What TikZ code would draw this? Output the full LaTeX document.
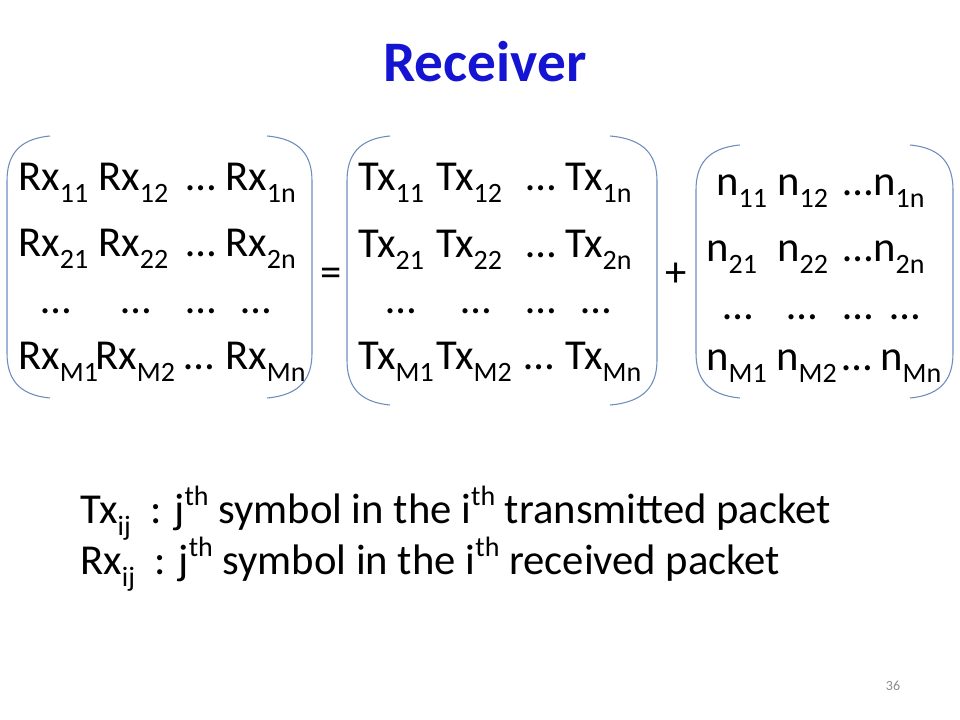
\documentclass[tikz,border=0pt]{standalone}
\usepackage{fontspec}
\setmainfont{Carlito}
\definecolor{titleblue}{RGB}{20,20,210}
\definecolor{brkcol}{RGB}{110,140,190}
\definecolor{pgray}{RGB}{140,140,140}
\newcommand{\mysb}[1]{\raisebox{-9pt}{\fontsize{21}{21}\selectfont #1}}
\newcommand{\mysp}[1]{\raisebox{13pt}{\fontsize{21}{21}\selectfont #1}}
\newcommand{\brkt}[4]{\draw[brk] (#1,#3) .. controls ({#2+0.25*(#1-#2)},{#3+3}) and (#2,{#3+20}) .. (#2,{#3+45}) -- (#2,{#4-45}) .. controls (#2,{#4-20}) and ({#2+0.25*(#1-#2)},{#4-3}) .. (#1,#4);}
\begin{document}
\begin{tikzpicture}[x=0.75pt,y=-0.75pt,
  entry/.style={anchor=base west,inner sep=0pt,font=\fontsize{32}{38}\selectfont},
  titlestyle/.style={anchor=base,inner sep=0pt,font=\fontsize{43}{50}\selectfont\bfseries,text=titleblue},
  brk/.style={draw=brkcol,line width=0.8pt},
  opsym/.style={inner sep=0pt,font=\fontsize{32}{38}\selectfont}]
\useasboundingbox[fill=white] (0,0) rectangle (960,720);
\node[titlestyle] (title) at (485,82) {Receiver};
% brackets
\brkt{50}{7}{136}{398}
\brkt{267}{312}{136}{398}
\brkt{390}{347}{136}{405}
\brkt{610}{657}{136}{405}
\brkt{740}{696}{145}{398}
\brkt{910}{953}{145}{398}
% Rx matrix
\node[entry] (r11) at (18,191) {Rx\mysb{11}};
\node[entry] (r12) at (98,191) {Rx\mysb{12}};
\node[entry] (r1d) at (186,191) {…};
\node[entry] (r1n) at (225,191) {Rx\mysb{1n}};
\node[entry] (r21) at (18,257) {Rx\mysb{21}};
\node[entry] (r22) at (98,257) {Rx\mysb{22}};
\node[entry] (r2d) at (186,257) {…};
\node[entry] (r2n) at (225,257) {Rx\mysb{2n}};
\node[entry] (r31) at (41,313) {…};
\node[entry] (r32) at (121,313) {…};
\node[entry] (r33) at (186,313) {…};
\node[entry] (r34) at (241,313) {…};
\node[entry] (rm1) at (18,369) {Rx\mysb{M1}};
\node[entry] (rm2) at (95,369) {Rx\mysb{M2}};
\node[entry] (rmd) at (184,369) {…};
\node[entry] (rmn) at (225,369) {Rx\mysb{Mn}};
\node[opsym] (eq) at (331,277) {=};
% Tx matrix
\node[entry] (t11) at (358,191) {Tx\mysb{11}};
\node[entry] (t12) at (436,191) {Tx\mysb{12}};
\node[entry] (t1d) at (526,191) {…};
\node[entry] (t1n) at (565,191) {Tx\mysb{1n}};
\node[entry] (t21) at (358,258) {Tx\mysb{21}};
\node[entry] (t22) at (436,258) {Tx\mysb{22}};
\node[entry] (t2d) at (526,258) {…};
\node[entry] (t2n) at (565,258) {Tx\mysb{2n}};
\node[entry] (t31) at (386,313) {…};
\node[entry] (t32) at (461,313) {…};
\node[entry] (t33) at (526,313) {…};
\node[entry] (t34) at (581,313) {…};
\node[entry] (tm1) at (358,369) {Tx\mysb{M1}};
\node[entry] (tm2) at (436,369) {Tx\mysb{M2}};
\node[entry] (tmd) at (524,369) {…};
\node[entry] (tmn) at (565,369) {Tx\mysb{Mn}};
\node[opsym] (plus) at (676,275) {+};
% n matrix
\node[entry] (n11) at (716,196) {n\mysb{11}};
\node[entry] (n12) at (777,196) {n\mysb{12}};
\node[entry] (n1d) at (843,196) {…};
\node[entry] (n1n) at (873,196) {n\mysb{1n}};
\node[entry] (n21) at (706,262) {n\mysb{21}};
\node[entry] (n22) at (777,262) {n\mysb{22}};
\node[entry] (n2d) at (843,262) {…};
\node[entry] (n2n) at (873,262) {n\mysb{2n}};
\node[entry] (n31) at (723,320) {…};
\node[entry] (n32) at (787,320) {…};
\node[entry] (n33) at (843,320) {…};
\node[entry] (n34) at (890,320) {…};
\node[entry] (nm1) at (706,370) {n\mysb{M1}};
\node[entry] (nm2) at (776,370) {n\mysb{M2}};
\node[entry] (nmd) at (842,370) {…};
\node[entry] (nmn) at (880,370) {n\mysb{Mn}};
% legend
\node[entry] (leg1) at (80,523) {Tx\mysb{ij}\ \ : j\mysp{th} symbol in the i\mysp{th} transmitted packet};
\node[entry] (leg2) at (80,574) {Rx\mysb{ij}\ \ : j\mysp{th} symbol in the i\mysp{th} received packet};
\node[anchor=base,inner sep=0pt,font=\fontsize{10.5}{12}\selectfont,text=pgray] (pnum) at (893,690) {36};
\end{tikzpicture}
\end{document}
